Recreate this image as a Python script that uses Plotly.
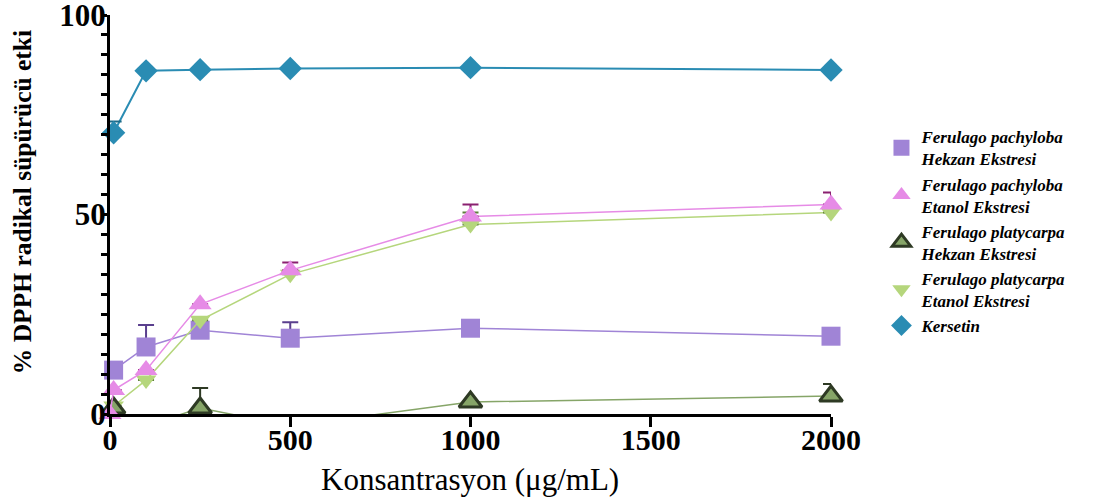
import plotly.graph_objects as go

conc = [10, 100, 250, 500, 1000, 2000]
conc_pe = [0, 10, 100, 250, 500, 1000, 2000]

ph_hex = [11, 16.8, 21, 19, 21.5, 19.5]
ph_hex_err = [0, 5.5, 0, 4, 0, 2]

pe_eth = [0, 6, 11, 27.5, 36, 49.5, 52.5]
pe_eth_err = [0, 0, 0, 0, 2, 3, 3]

pl_hex = [1.5, -3, 1.5, -3, 3, 4.5]
pl_hex_err = [0, 0, 5, 0, 0, 3]

pl_eth = [2, 8.5, 23.5, 35, 47.5, 50.5]
pl_eth_err = [0, 0, 0, 0, 3, 0]

kers = [70.5, 86, 86.3, 86.6, 86.8, 86.2]
kers_err = [2.8, 0, 0, 0, 0, 0]

x_ticks = [0, 500, 1000, 1500, 2000]
y_ticks = [0, 50, 100]

names = [
    "<b><i>Ferulago pachyloba<br>Hekzan Ekstresi</i></b>",
    "<b><i>Ferulago pachyloba<br>Etanol Ekstresi</i></b>",
    "<b><i>Ferulago platycarpa<br>Hekzan Ekstresi</i></b>",
    "<b><i>Ferulago platycarpa<br>Etanol Ekstresi</i></b>",
    "<b><i>Kersetin</i></b>",
]

fig = go.Figure()

def add(x, y, err, color, errcolor, symbol, size, lw, edge=None, ew=0):
    # connecting line (clipped to the plot area)
    fig.add_trace(go.Scatter(
        x=x, y=y, mode="lines",
        line=dict(color=color, width=lw),
        showlegend=False, cliponaxis=True, hoverinfo="skip"))
    # markers (points below the axis are hidden, points on the axis drawn in full)
    ym = [v if v >= 0 else None for v in y]
    fig.add_trace(go.Scatter(
        x=x, y=ym, mode="markers",
        marker=dict(symbol=symbol, size=size, color=color,
                    line=dict(color=edge or color, width=ew)),
        error_y=dict(type="data", array=err, arrayminus=[0]*len(err),
                     symmetric=False, color=errcolor, thickness=2, width=8),
        showlegend=False, cliponaxis=False))

add(conc, kers, kers_err, "#2a8cb3", "#1f6c8a", "diamond", 18, 2)
add(conc, ph_hex, ph_hex_err, "#a084d6", "#5a3f8e", "square", 19, 1.5)
add(conc, pl_eth, pl_eth_err, "#b5d67c", "#5e7e3c", "triangle-down", 18, 1.5)
add(conc, pl_hex, pl_hex_err, "#86a568", "#2e3a24", "triangle-up", 20, 1.5, edge="#2e3a24", ew=3)
add(conc_pe, pe_eth, pe_eth_err, "#e68be6", "#8a2070", "triangle-up", 20, 1.5)

leg = [
    ("square", "#a084d6", None, 0),
    ("triangle-up", "#e68be6", None, 0),
    ("triangle-up", "#86a568", "#2e3a24", 3),
    ("triangle-down", "#b5d67c", None, 0),
    ("diamond", "#2a8cb3", None, 0),
]
for (sym, c, e, ew), n in zip(leg, names):
    fig.add_trace(go.Scatter(
        x=[None], y=[None], mode="markers", name=n,
        marker=dict(symbol=sym, size=20, color=c, line=dict(color=e or c, width=ew))))

fig.update_layout(
    width=1116, height=498,
    margin=dict(l=110, r=285, t=15, b=84),
    plot_bgcolor="white", paper_bgcolor="white",
    font=dict(family="Liberation Serif", color="black"),
    legend=dict(x=1.07, y=0.739, xanchor="left", yanchor="top",
                font=dict(size=17, family="Liberation Serif"),
                itemwidth=30, bgcolor="rgba(0,0,0,0)"),
    xaxis=dict(range=[0, 2000], tickvals=x_ticks,
               automargin=False, ticklabeloverflow="allow", ticklabelstandoff=-13,
               showgrid=False, zeroline=False, showline=True, linecolor="black",
               linewidth=3, ticks="outside", ticklen=10, tickwidth=3, tickcolor="black",
               tickfont=dict(size=30, family="Liberation Serif", weight="bold")),
    yaxis=dict(range=[0, 100], tickvals=y_ticks,
               automargin=False, ticklabeloverflow="allow", ticklabelstandoff=-11,
               showgrid=False, zeroline=False, showline=True, linecolor="black",
               linewidth=3, ticks="outside", ticklen=6, tickwidth=3, tickcolor="black",
               minor=dict(dtick=5, ticks="outside", ticklen=6, tickwidth=3, tickcolor="black"),
               tickfont=dict(size=31, family="Liberation Serif", weight="bold")),
    annotations=[
        dict(text="<b>% DPPH radikal süpürücü etki</b>", textangle=-90,
             xref="paper", yref="paper", x=-0.122, y=0.531,
             xanchor="center", yanchor="middle", showarrow=False,
             font=dict(size=25.5, family="Liberation Serif")),
        dict(text="Konsantrasyon (μg/mL)",
             xref="paper", yref="paper", x=0.4993, y=-0.165,
             xanchor="center", yanchor="middle", showarrow=False,
             font=dict(size=31, family="Liberation Serif")),
    ],
)

fig.write_html("out.html", config={"displayModeBar": False},
               post_script="document.body.style.margin='0';")
